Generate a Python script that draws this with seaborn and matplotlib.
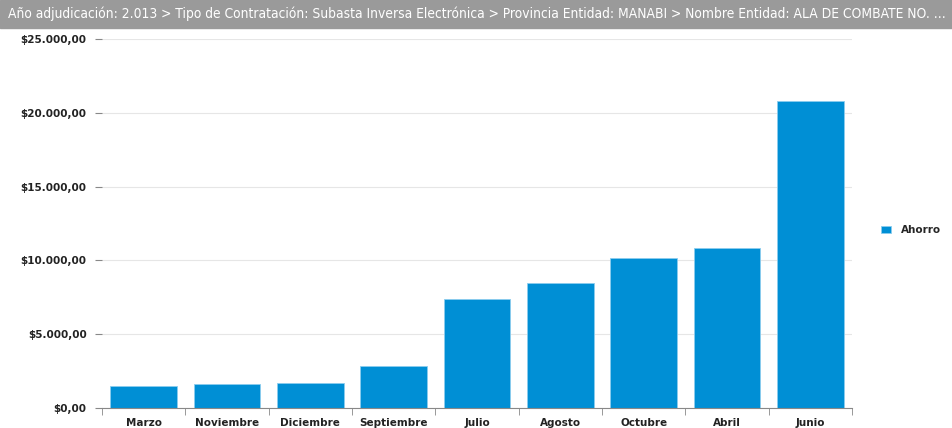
import matplotlib
matplotlib.use("Agg")
import matplotlib.pyplot as plt
import matplotlib.ticker as mticker
import seaborn as sns
import pandas as pd
import numpy as np

meses = ["Marzo", "Noviembre", "Diciembre", "Septiembre", "Julio",
         "Agosto", "Octubre", "Abril", "Junio"]
ahorro = [1490, 1630, 1690, 2850, 7390, 8470, 10160, 10840, 20800]
y_ticks = [0, 5000, 10000, 15000, 20000, 25000]
titulo = ("Año adjudicación: 2.013 > Tipo de Contratación: Subasta Inversa Electrónica > "
          "Provincia Entidad: MANABI > Nombre Entidad: ALA DE COMBATE NO. ...")

df = pd.DataFrame({"Mes": meses, "Ahorro": ahorro})

sns.set_style("white")
plt.rcParams["font.family"] = ["DejaVu Sans"]

fig = plt.figure(figsize=(9.53, 4.28), dpi=100)
ax = fig.add_axes([0.107, 0.047, 0.787, 0.862])

sns.barplot(data=df, x="Mes", y="Ahorro", color="#008fd5", saturation=1,
            width=0.8, edgecolor="#8ccdee", linewidth=0.6, ax=ax)

def fmt(v, pos):
    s = f"{v:,.2f}".replace(",", "X").replace(".", ",").replace("X", ".")
    return "$" + s

ax.set_ylim(0, 25000)
ax.set_yticks(y_ticks)
ax.yaxis.set_major_formatter(mticker.FuncFormatter(fmt))
ax.set_xlim(-0.5, len(meses) - 0.5)
ax.yaxis.grid(True, color="#e6e6e6", linewidth=0.8)
ax.set_axisbelow(True)
ax.set_xlabel("")
ax.set_ylabel("")

for s in ["top", "right", "left"]:
    ax.spines[s].set_visible(False)
ax.spines["bottom"].set_color("#888888")

ax.tick_params(axis="y", length=5, color="#888888", pad=6, labelsize=7.5,
               labelcolor="#222222", left=True)
ax.tick_params(axis="x", which="major", length=0, pad=7, labelsize=7.5,
               labelcolor="#222222")
ax.set_xticks(np.arange(-0.5, len(meses)), minor=True)
ax.tick_params(axis="x", which="minor", length=5, color="#888888", bottom=True)
for lab in ax.get_xticklabels() + ax.get_yticklabels():
    lab.set_fontweight("semibold")

# barra de título
fig.patches.append(plt.Rectangle((0, 0.935), 1, 0.065, transform=fig.transFigure,
                                 color="#9a9a9a", zorder=0))
fig.text(0.008, 0.967, titulo, color="white", fontsize=9.9, va="center", ha="left",
         fontstretch="condensed")

fig.legend(handles=ax.patches[:1], labels=["Ahorro"], loc="center left",
           bbox_to_anchor=(0.915, 0.463), frameon=False,
           handlelength=0.9, handleheight=0.7, handletextpad=1.0,
           prop={"weight": "semibold", "size": 7.5})

fig.savefig("out.png", dpi=100)
